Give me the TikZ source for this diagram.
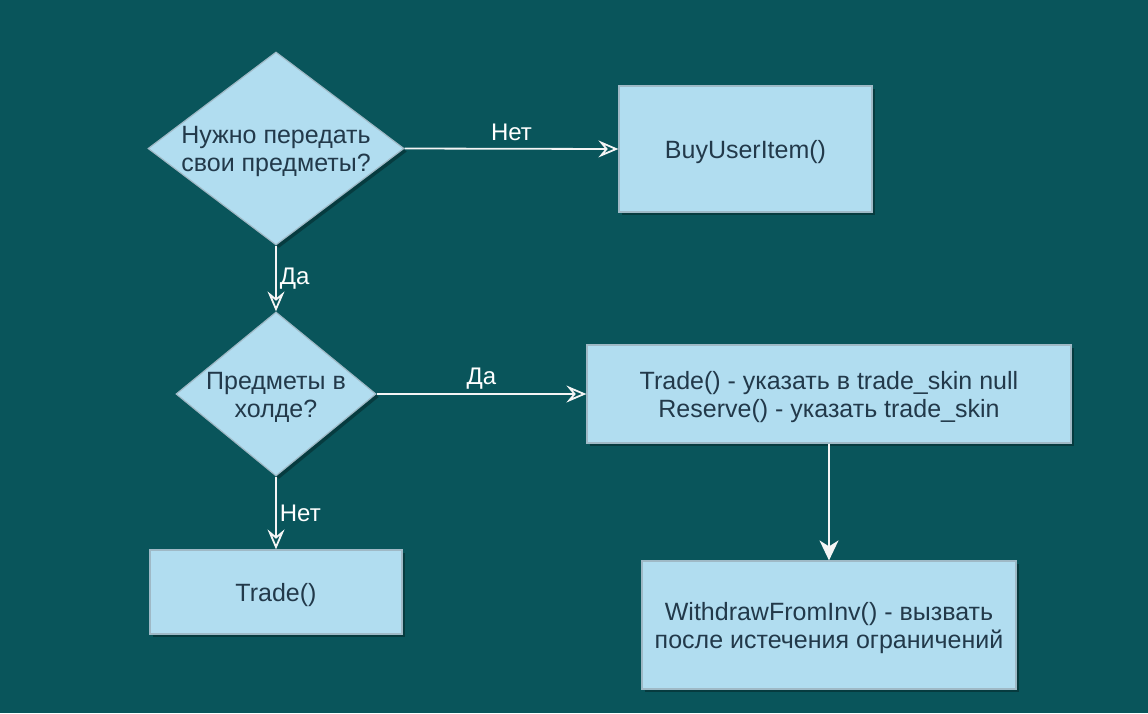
\documentclass[tikz,border=0pt]{standalone}
\usepackage{fontspec}
\setmainfont{Liberation Sans}
\usetikzlibrary{shapes.geometric,arrows.meta,shadows}
\definecolor{bgc}{HTML}{09555B}
\definecolor{fillc}{HTML}{B1DDF0}
\definecolor{strokec}{HTML}{9FB9C6}
\definecolor{txtc}{HTML}{22394A}
\tikzset{
  shp/.style={draw=strokec, line width=1.2pt, fill=fillc, inner sep=0pt,
    drop shadow={shadow xshift=3pt, shadow yshift=-3pt, fill=black, opacity=0.3}},
  txt/.style={text=txtc, font=\fontsize{25}{28}\selectfont, align=center, inner sep=0pt, yshift=-3pt},
  boxs/.style={shp, rectangle},
  dia/.style={shp, diamond},
  conn/.style={draw=white!92!gray, line width=1.8pt, -{Stealth[open, length=20pt, width=17pt, inset=7pt, line width=1.8pt]}},
  connf/.style={draw=white!92!gray, line width=1.8pt, -{Stealth[length=20pt, width=19pt, inset=6pt]}},
  lbl/.style={text=white, font=\fontsize{24}{28}\selectfont, inner sep=2pt}
}
\begin{document}
\begin{tikzpicture}[x=1pt,y=-1pt]
\fill[bgc] (0,0) rectangle (1148,713);
\useasboundingbox (0,0) rectangle (1148,713);
\node[dia, minimum width=256pt, minimum height=193pt, label={[txt]center:{Нужно передать\\свои предметы?}}] (d1) at (276,148.5) {};
\node[boxs, minimum width=253pt, minimum height=126pt, label={[txt]center:{BuyUserItem()}}] (buy) at (745.5,149) {};
\node[dia, minimum width=200pt, minimum height=164pt, label={[txt]center:{Предметы в\\холде?}}] (d2) at (276,394) {};
\node[boxs, minimum width=484pt, minimum height=98pt, label={[txt]center:{Trade() - указать в trade\_skin null\\Reserve() - указать trade\_skin}}] (tr) at (829,394) {};
\node[boxs, minimum width=252pt, minimum height=84pt, label={[txt]center:{Trade()}}] (trade) at (276,592) {};
\node[boxs, minimum width=374pt, minimum height=128pt, label={[txt]center:{WithdrawFromInv() - вызвать\\после истечения ограничений}}] (wd) at (829,625) {};
\draw[conn] (d1.east) -- node[lbl, midway, above=5pt] {Нет} (buy.west);
\draw[conn] (d1.south) -- node[lbl, midway, right=1pt] {Да} (d2.north);
\draw[conn] (d2.east) -- node[lbl, pos=0.5, above=2pt] {Да} (tr.west);
\draw[conn] (d2.south) -- node[lbl, midway, right=1pt] {Нет} (trade.north);
\draw[connf] (tr.south) -- (wd.north);
\end{tikzpicture}
\end{document}
